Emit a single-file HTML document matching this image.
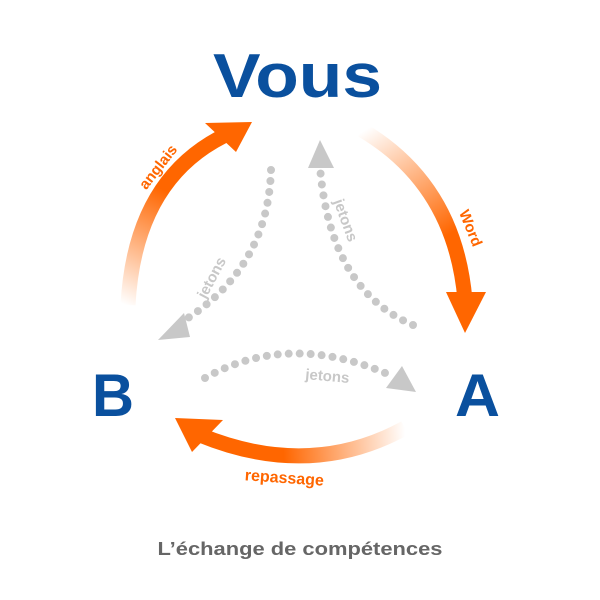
<!DOCTYPE html>
<html><head><meta charset="utf-8"><style>html,body{margin:0;padding:0;background:#fff}svg{display:block}</style></head>
<body>
<svg width="600" height="600" viewBox="0 0 600 600" xmlns="http://www.w3.org/2000/svg" font-family="Liberation Sans, sans-serif" font-weight="bold">
<defs>
<linearGradient id="g1" gradientUnits="userSpaceOnUse" x1="125" y1="305" x2="200" y2="150"><stop offset="0" stop-color="#ff6600" stop-opacity="0"/><stop offset="0.7" stop-color="#ff6600"/><stop offset="1" stop-color="#ff6600"/></linearGradient>
<linearGradient id="g2" gradientUnits="userSpaceOnUse" x1="365" y1="130" x2="460" y2="280"><stop offset="0" stop-color="#ff6600" stop-opacity="0"/><stop offset="0.75" stop-color="#ff6600"/><stop offset="1" stop-color="#ff6600"/></linearGradient>
<linearGradient id="g3" gradientUnits="userSpaceOnUse" x1="405" y1="430" x2="230" y2="440"><stop offset="0" stop-color="#ff6600" stop-opacity="0"/><stop offset="0.7" stop-color="#ff6600"/><stop offset="1" stop-color="#ff6600"/></linearGradient>
</defs>
<text x="213" y="97" font-size="62" fill="#0a509e" textLength="169" lengthAdjust="spacingAndGlyphs">Vous</text>
<text x="92" y="416" font-size="60" fill="#0a509e" textLength="42" lengthAdjust="spacingAndGlyphs">B</text>
<text x="455" y="416" font-size="60" fill="#0a509e" textLength="45" lengthAdjust="spacingAndGlyphs">A</text>
<text x="300" y="555" font-size="18" fill="#666" text-anchor="middle" textLength="285" lengthAdjust="spacingAndGlyphs">L’échange de compétences</text>

<path d="M128,305 Q135,175 232,132" fill="none" stroke="url(#g1)" stroke-width="15"/>
<polygon points="252,122 205,123 236,152" fill="#ff6600"/>
<path d="M362,130 Q455,185 465,300" fill="none" stroke="url(#g2)" stroke-width="15"/>
<polygon points="465,333 446,292 486,292" fill="#ff6600"/>
<path d="M405,428 Q310,480 200,435" fill="none" stroke="url(#g3)" stroke-width="15"/>
<polygon points="175,418 223,420 192,452" fill="#ff6600"/>

<g fill="none" stroke="#c8c8c8" stroke-width="8" stroke-linecap="round" stroke-dasharray="0 11">
<path d="M271,170 Q268,270 180,323"/>
<path d="M413,325 Q330,290 320,167"/>
<path d="M205,378 Q290,330 392,376"/>
</g>
<g fill="#c8c8c8">
<polygon points="158,340 184,313 190,337"/>
<polygon points="320,140 308,168 334,168"/>
<polygon points="416,392 386,388 402,366"/>
</g>

<text font-size="15" fill="#ff6600" transform="translate(162,170) rotate(-52)" text-anchor="middle">anglais</text>
<text font-size="15" fill="#ff6600" transform="translate(466,230) rotate(68)" text-anchor="middle">Word</text>
<text font-size="16" fill="#ff6600" transform="translate(284,483) rotate(4)" text-anchor="middle">repassage</text>
<text font-size="15" fill="#c8c8c8" transform="translate(216,280) rotate(-62)" text-anchor="middle">jetons</text>
<text font-size="15" fill="#c8c8c8" transform="translate(341,222) rotate(70)" text-anchor="middle">jetons</text>
<text font-size="15" fill="#c8c8c8" transform="translate(327,381) rotate(5)" text-anchor="middle">jetons</text>
</svg>
</body></html>
